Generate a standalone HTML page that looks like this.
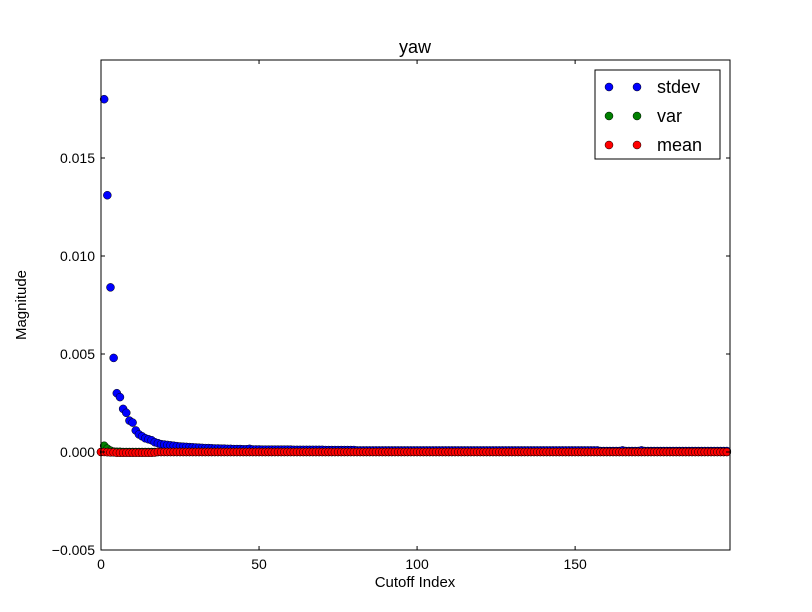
<!DOCTYPE html>
<html><head><meta charset="utf-8"><style>
body{margin:0;background:#fff;}
svg{display:block;font-family:"Liberation Sans","DejaVu Sans",sans-serif;}
</style></head><body>
<svg id="chart" width="812" height="612">
<rect x="0" y="0" width="812" height="612" fill="#fff"/>
<text x="415" y="53" text-anchor="middle" font-size="18">yaw</text>
<text x="415" y="587" text-anchor="middle" font-size="15">Cutoff Index</text>
<text x="26" y="305" text-anchor="middle" font-size="15" transform="rotate(-90 26 305)">Magnitude</text>
<g id="marks"></g>
<g id="axes"></g>
<g id="legend">
<rect x="595" y="70" width="125" height="89" fill="#fff" stroke="#000" stroke-width="1"/>
<g><circle cx="609" cy="87" r="4" fill="#0000ff" stroke="#000" stroke-width="0.5"/><circle cx="637" cy="87" r="4" fill="#0000ff" stroke="#000" stroke-width="0.5"/><text x="657" y="93" font-size="18">stdev</text></g>
<g><circle cx="609" cy="116" r="4" fill="#008000" stroke="#000" stroke-width="0.5"/><circle cx="637" cy="116" r="4" fill="#008000" stroke="#000" stroke-width="0.5"/><text x="657" y="122" font-size="18">var</text></g>
<g><circle cx="609" cy="145" r="4" fill="#ff0000" stroke="#000" stroke-width="0.5"/><circle cx="637" cy="145" r="4" fill="#ff0000" stroke="#000" stroke-width="0.5"/><text x="657" y="151" font-size="18">mean</text></g>
</g>
</svg>
<script>
const stdevStart = 1;
const stdevValues = [
.018,.0131,.0084,.0048,.003,.0028,.0022,.002,.0016,.0015,
.0011,.0009,.0008,.0007,.00065,.0006,.0005,.00045,.0004,.00038,
.00036,.00034,.00032,.0003,.00028,.00027,.00026,.00025,.00024,.00023,
.00022,.00021,.0002,.0002,.00019,.00018,.00018,.00017,.00017,.00016,
.00016,.00015,.00015,.00015,.00014,.00014,.00016,.00013,.00013,.00013,
.00012,.00012,.00012,.00012,.00012,.00012,.00012,.00012,.00012,.00012,
.00011,.00011,.00011,.00011,.00011,.00011,.00011,.00011,.00011,.00011,
.0001,.0001,.0001,.0001,.0001,.0001,.0001,.0001,.0001,.0001,
.00008,.00008,.00008,.00008,.00008,.00008,.00008,.00008,.00008,.00008,
.00008,.00008,.00008,.00008,.00008,.00008,.00008,.00008,.00008,.00008,
.00008,.00008,.00008,.00008,.00008,.00008,.00008,.00008,.00008,.00008,
.00008,.00008,.00008,.00008,.00008,.00008,.00008,.00008,.00008,.00008,
.00008,.00008,.00008,.00008,.00008,.00008,.00008,.00008,.00008,.00008,
.00008,.00008,.00008,.00008,.00008,.00008,.00008,.00008,.00008,.00008,
.00008,.00008,.00008,.00008,.00008,.00008,.00008,.00008,.00008,.00008,
.00008,.00008,.00008,.00008,.00008,.00008,.00008,.00005,.00005,.00005,
.00005,.00005,.00005,.00005,.00008,.00005,.00005,.00005,.00005,.00005,
.00008,.00005,.00005,.00005,.00005,.00005,.00005,.00005,.00005,.00005,
.00005,.00005,.00005,.00005,.00005,.00005,.00005,.00005,.00005,.00005,
.00005,.00005,.00005,.00005,.00005,.00005,.00005,.00005
];
const varStart = 0;
const varValues = [0,.00032,.00017,.00007,.00002,.00001,.00001,0,0,0];
const meanStart = 0;
const meanValues = [
0,0,-.00001,-.00002,-.00002,-.00004,-.00004,-.00004,-.00004,-.00004,
-.00004,-.00004,-.00004,-.00004,-.00004,-.00004,-.00004,-.00003,0,0
];
const meanTailCount = 179; // remaining mean values are 0
const xTicks = [0,50,100,150];
const yTicks = [-0.005,0,0.005,0.010,0.015];
const yTickLabels = ["\u22120.005","0.000","0.005","0.010","0.015"];

const X0=101,X1=730,Y0=60,Y1=550;
const xMin=0,xMax=199,yMin=-0.005,yMax=0.02;
function sx(v){return X0+(v-xMin)/(xMax-xMin)*(X1-X0);}
function sy(v){return Y1-(v-yMin)/(yMax-yMin)*(Y1-Y0);}
const NS="http://www.w3.org/2000/svg";
const marks=document.getElementById('marks');
const axes=document.getElementById('axes');
function mk(tag,attrs,parent){const e=document.createElementNS(NS,tag);for(const k in attrs)e.setAttribute(k,attrs[k]);parent.appendChild(e);return e;}

function series(vals,start,color,name,extraZeros){
  const g=mk('g',{},marks);
  
  
  const all=vals.slice();
  for(let i=0;i<(extraZeros||0);i++)all.push(0);
  all.forEach((v,i)=>{
    const c=mk('circle',{cx:sx(start+i),cy:sy(v),r:4,fill:color,stroke:'#000','stroke-width':0.5},g);
    
    
  });
}
series(stdevValues,stdevStart,'#0000ff','stdev',0);
series(varValues,varStart,'#008000','var',189);
series(meanValues,meanStart,'#ff0000','mean',meanTailCount);

const frame=mk('rect',{x:X0,y:Y0,width:X1-X0,height:Y1-Y0,fill:'none',stroke:'#000','stroke-width':1},axes);


xTicks.forEach(t=>{
  const x=sx(t);
  mk('line',{x1:x,y1:Y1,x2:x,y2:Y1-4,stroke:'#000'},axes);
  mk('line',{x1:x,y1:Y0,x2:x,y2:Y0+4,stroke:'#000'},axes);
  const tx=mk('text',{x:x,y:Y1+19,'text-anchor':'middle','font-size':14},axes);
  tx.textContent=t;
  
  
});
yTicks.forEach((t,i)=>{
  const y=sy(t);
  mk('line',{x1:X0,y1:y,x2:X0+4,y2:y,stroke:'#000'},axes);
  mk('line',{x1:X1,y1:y,x2:X1-4,y2:y,stroke:'#000'},axes);
  const tx=mk('text',{x:X0-6,y:y+5,'text-anchor':'end','font-size':14},axes);
  tx.textContent=yTickLabels[i];
  
  
});
</script>
</body></html>
